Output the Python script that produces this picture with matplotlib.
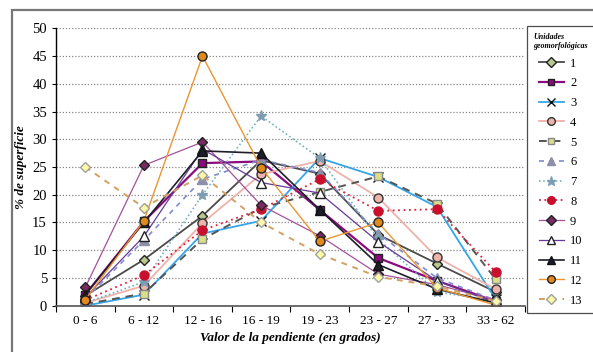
import matplotlib
matplotlib.use("Agg")
import matplotlib.pyplot as plt
from matplotlib.patches import Rectangle

# --- DATA ---
categories = ["0 - 6", "6 - 12", "12 - 16", "16 - 19", "19 - 23", "23 - 27", "27 - 33", "33 - 62"]
unit_names = ["1", "2", "3", "4", "5", "6", "7", "8", "9", "10", "11", "12", "13"]

u1 = [1.8, 8.3, 16.2, 26.2, 23.8, 12.8, 7.6, 2.5]
u2 = [2.0, 15.2, 25.7, 26.0, 17.3, 8.6, 4.5, 0.8]
u3 = [0.0, 2.0, 13.0, 15.3, 26.6, 23.2, 17.8, 1.2]
u4 = [0.5, 3.6, 14.9, 23.7, 26.1, 19.5, 8.7, 3.0]
u5 = [0.3, 2.2, 12.0, 17.6, 20.5, 23.3, 18.4, 4.8]
u6 = [1.2, 11.8, 22.8, 26.3, 24.0, 13.0, 5.0, 1.0]
u7 = [0.5, 4.3, 20.0, 34.2, 26.6, 12.0, 2.5, 0.8]
u8 = [1.0, 5.5, 13.6, 17.4, 22.8, 17.1, 17.4, 6.1]
u9 = [3.3, 25.3, 29.5, 18.1, 12.6, 5.7, 3.8, 1.0]
u10 = [1.5, 12.5, 28.2, 22.2, 20.3, 11.5, 4.5, 0.5]
u11 = [2.0, 15.0, 27.9, 27.5, 17.3, 7.4, 3.0, 0.5]
u12 = [1.1, 15.3, 45.0, 24.9, 11.6, 15.0, 3.2, 0.1]
u13 = [25.0, 17.7, 23.5, 15.0, 9.3, 5.2, 3.5, 0.8]

series = [u1, u2, u3, u4, u5, u6, u7, u8, u9, u10, u11, u12, u13]

# line colour, linestyle, marker, marker face, marker edge, line width
styles = [
    ("#4a4a4a", "-", "D", "#b9c68e", "#222222", 1.3),
    ("#8a0b7c", "-", "s", "#8a0b7c", "#222222", 1.6),
    ("#35a6ea", "-", "x", "none", "#111111", 1.3),
    ("#eeb2aa", "-", "o", "#ecb4ac", "#333333", 1.3),
    ("#555555", (0, (4, 3)), "s", "#d9e08c", "#888888", 1.4),
    ("#7f8ad2", (0, (3, 3)), "^", "#8c90a8", "#8c90a8", 1.2),
    ("#74b4c6", (0, (1, 1.5)), "*", "#7e9db2", "#7e9db2", 1.2),
    ("#e0203e", (0, (1, 2)), "o", "#c8102e", "#c8102e", 1.3),
    ("#a4529c", "-", "D", "#7a2a62", "#222222", 0.9),
    ("#663a96", "-", "^", "white", "#222222", 0.9),
    ("#1e1e2a", "-", "^", "#1e1e2a", "#111111", 1.2),
    ("#ea9630", "-", "o", "#e08a1e", "#222222", 1.0),
    ("#d3a062", (0, (3, 3)), "D", "#fff9a6", "#a0a0a0", 1.4),
]

plt.rcParams["font.family"] = ["Liberation Serif", "DejaVu Serif"]

fig = plt.figure(figsize=(5.93, 3.52), dpi=100)
ax = fig.add_axes([0.0944, 0.1315, 0.7906, 0.7881])

x = list(range(len(categories)))
for vals, name, (col, ls, mk, mfc, mec, lw) in zip(series, unit_names, styles):
    ms = 8 if mk == "*" else (5.5 if mk in ("D", "s") else 6.5)
    ax.plot(x, vals, color=col, linestyle=ls, linewidth=lw, marker=mk,
            markersize=ms, markerfacecolor=mfc, markeredgecolor=mec,
            markeredgewidth=1.0, label=name)

ax.set_xlim(-0.5, len(categories) - 0.5)
ax.set_ylim(0, 50)
ax.set_yticks(range(0, 51, 5))
ax.set_xticks(x)
ax.set_xticklabels(categories)
ax.set_xticks([i - 0.5 for i in range(len(categories) + 1)], minor=True)
ax.tick_params(axis="x", which="major", length=0, labelsize=9.5, pad=7)
ax.tick_params(axis="x", which="minor", length=4, direction="out", width=0.8)
ax.tick_params(axis="y", length=3, direction="out", labelsize=10.5, width=0.8)

ax.yaxis.grid(True, linestyle=(0, (1, 1.5)), color="#888888", linewidth=0.9)
ax.set_axisbelow(True)
for side in ("top", "right"):
    ax.spines[side].set_visible(False)
ax.spines["left"].set_linewidth(1.0)
ax.spines["bottom"].set_linewidth(1.2)
ax.spines["bottom"].set_color("#555555")

ax.set_ylabel("% de superficie", fontsize=9.5, fontweight="bold", style="italic", labelpad=4)
ax.set_xlabel("Valor de la pendiente (en grados)", fontsize=9.5, fontweight="bold",
              style="italic", labelpad=3)

leg = fig.legend(loc="upper left", bbox_to_anchor=(0.889, 0.925), fontsize=9,
                 title="Unidades\ngeomorfológicas", handlelength=2.0,
                 handletextpad=0.5, labelspacing=0.62, borderpad=0.5,
                 frameon=True, fancybox=False, edgecolor="#222222",
                 borderaxespad=0, markerscale=0.85)
leg.get_title().set_fontsize(5.8)
leg.get_title().set_fontweight("bold")
leg.get_title().set_fontstyle("italic")
leg.get_frame().set_linewidth(0.9)

# outer chart frame
fig.patches.append(Rectangle((12 / 593, -0.05), 1.05, 0.05 + (1 - 10 / 352),
                             transform=fig.transFigure, fill=False,
                             edgecolor="#777777", linewidth=1.6))

fig.savefig("out.png", dpi=100)
